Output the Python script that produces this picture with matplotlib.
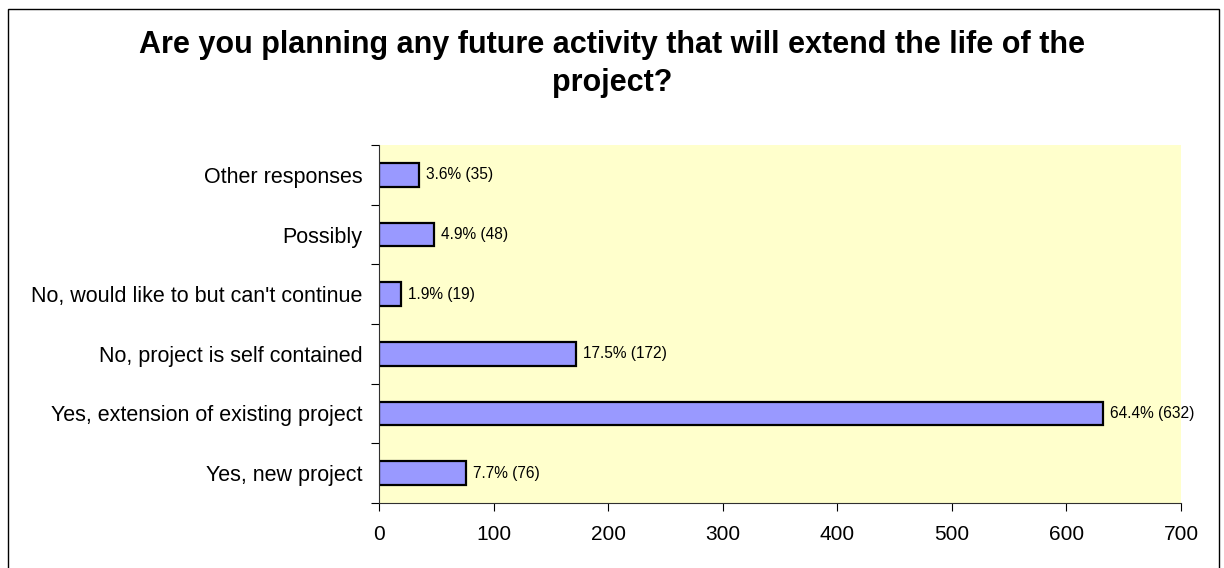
import matplotlib.pyplot as plt
from matplotlib.patches import Rectangle

plt.rcParams['font.family'] = ['Liberation Sans', 'DejaVu Sans']

# Survey answers, bottom to top as drawn
categories = [
    "Yes, new project",
    "Yes, extension of existing project",
    "No, project is self contained",
    "No, would like to but can't continue",
    "Possibly",
    "Other responses",
]
counts = [76, 632, 172, 19, 48, 35]
percents = [7.7, 64.4, 17.5, 1.9, 4.9, 3.6]
xticks = [0, 100, 200, 300, 400, 500, 600, 700]

fig = plt.figure(figsize=(12.24, 5.68), dpi=100)
ax = fig.add_axes([379 / 1224, 1 - 503 / 568, 802 / 1224, 358 / 568])
ax.set_facecolor('#FFFFCC')

y = list(range(len(categories)))
ax.barh(y, counts, height=0.4, color='#9999FF', edgecolor='black', linewidth=1.6)

for yi, c, p in zip(y, counts, percents):
    ax.text(c + 6, yi, f"{p}% ({c})", va='center', ha='left', fontsize=11.2)

ax.set_xlim(0, 700)
ax.set_ylim(-0.5, len(categories) - 0.5)
ax.set_xticks(xticks)
ax.set_xticklabels([str(t) for t in xticks], fontsize=15)

# category names sit between the tick marks
ax.set_yticks([i - 0.5 for i in range(len(categories) + 1)])
ax.set_yticklabels([])
ax.set_yticks(y, minor=True)
ax.set_yticklabels(categories, minor=True, fontsize=15.5)
ax.tick_params(axis='y', which='minor', length=0, pad=12)
ax.tick_params(axis='y', which='major', length=6, direction='out')
ax.tick_params(axis='x', length=6, direction='out', pad=10)

for side in ['top', 'right']:
    ax.spines[side].set_visible(False)
ax.spines['left'].set_color('#303030')
ax.spines['bottom'].set_color('#303030')

fig.text(0.5, 1 - 53 / 568, "Are you planning any future activity that will extend the life of the",
         ha='center', va='baseline', fontsize=22, fontweight='bold')
fig.text(0.5, 1 - 91 / 568, "project?", ha='center', va='baseline', fontsize=22, fontweight='bold')

fig.patches.append(Rectangle((8 / 1224, -0.02), 1211 / 1224, 1.02 - 9 / 568,
                             transform=fig.transFigure, fill=False,
                             edgecolor='black', linewidth=1))

fig.savefig('out.png', dpi=100)
